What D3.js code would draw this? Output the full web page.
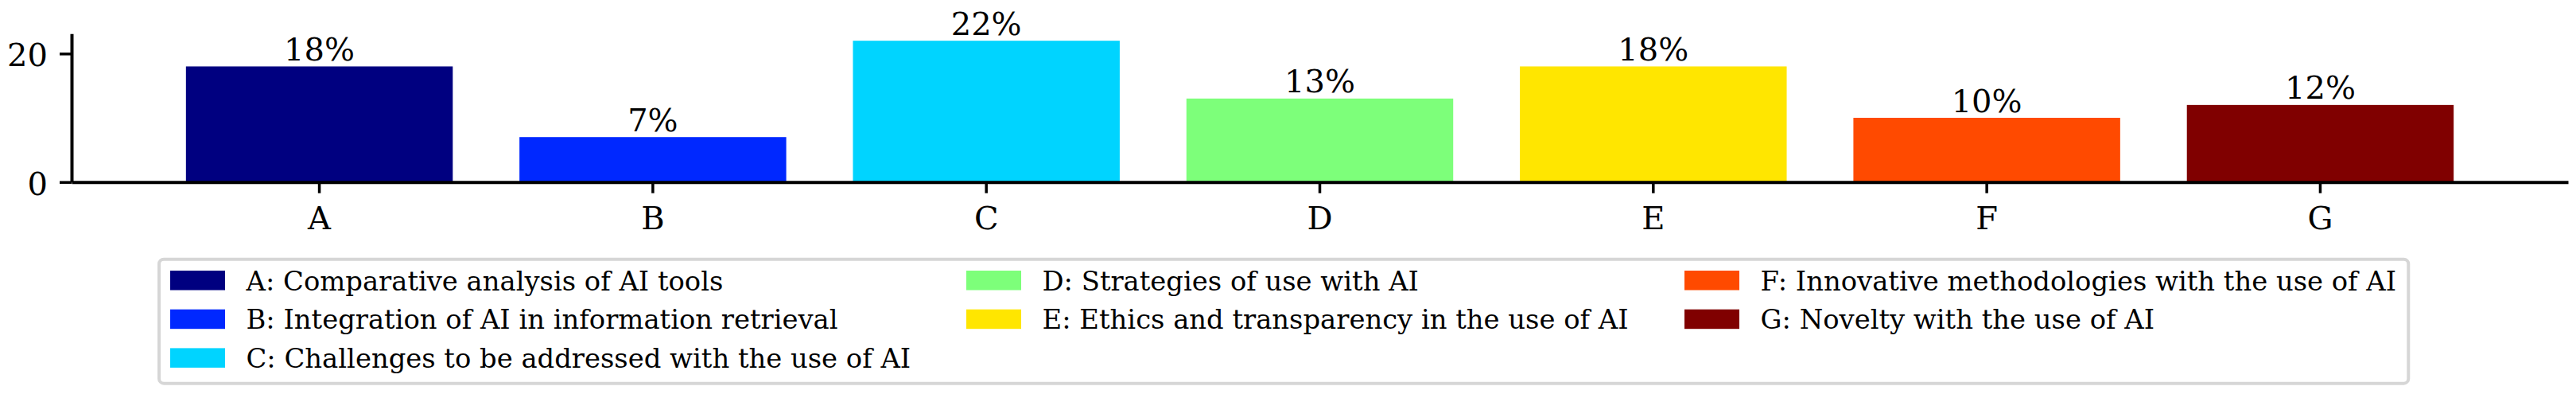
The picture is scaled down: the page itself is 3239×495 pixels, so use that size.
<!DOCTYPE html>
<html>
<head>
<meta charset="utf-8">
<script src="https://cdn.jsdelivr.net/npm/d3@7"></script>
<style>
  body { margin: 0; background: #fff; }
  svg text { font-family: "DejaVu Serif", serif; fill: #000; }
</style>
</head>
<body>
<div id="chart"></div>
<script>
// data
const categories = ["A", "B", "C", "D", "E", "F", "G"];
const values = [18, 7, 22, 13, 18, 10, 12];
const colors = ["#000080", "#0028ff", "#00d4ff", "#7dff7a", "#ffe600", "#ff4a00", "#800000"];
const legendLabels = [
    "A: Comparative analysis of AI tools",
    "B: Integration of AI in information retrieval",
    "C: Challenges to be addressed with the use of AI",
    "D: Strategies of use with AI",
    "E: Ethics and transparency in the use of AI",
    "F: Innovative methodologies with the use of AI",
    "G: Novelty with the use of AI"
];
const yTicks = [0, 20];

const W = 3239, H = 495;
const plot = {left: 90, right: 3229, top: 42.3, bottom: 228.7};

const svg = d3.select("#chart")
    .append("svg")
    .attr("width", W)
    .attr("height", H);

// scales
const x = d3.scaleBand()
    .domain(categories)
    .range([plot.left, plot.right])
    .paddingInner(0.2)
    .paddingOuter(0.343);

const y = d3.scaleLinear()
    .domain([0, 23.1])
    .range([plot.bottom, plot.top]);

// bars
svg.append("g")
    .selectAll("rect")
    .data(categories)
    .enter()
    .append("rect")
    .attr("x", d => x(d))
    .attr("width", x.bandwidth())
    .attr("y", (d, i) => y(values[i]))
    .attr("height", (d, i) => y(0) - y(values[i]))
    .attr("fill", (d, i) => colors[i]);

// value labels
svg.append("g")
    .selectAll("text")
    .data(categories)
    .enter()
    .append("text")
    .attr("x", d => x(d) + x.bandwidth() / 2)
    .attr("y", (d, i) => y(values[i]) - 7.5)
    .attr("text-anchor", "middle")
    .style("font-size", "40px")
    .text((d, i) => values[i] + "%");

// x axis
const xAxis = svg.append("g")
    .attr("transform", `translate(0,${plot.bottom})`)
    .call(d3.axisBottom(x).tickSizeInner(14).tickSizeOuter(0));
xAxis.select(".domain").attr("stroke-width", 4);
xAxis.selectAll(".tick line").attr("stroke-width", 3.5);
xAxis.selectAll(".tick text")
    .attr("y", 59.6)
    .attr("dy", 0)
    .style("font-size", "40px")
    .style("font-family", "DejaVu Serif, serif");

// y axis
const yAxis = svg.append("g")
    .attr("transform", `translate(${plot.left},0)`)
    .call(d3.axisLeft(y).tickValues(yTicks).tickSizeInner(15).tickSizeOuter(0));
yAxis.select(".domain").attr("stroke-width", 4);
yAxis.selectAll(".tick line").attr("stroke-width", 3.5);
yAxis.selectAll(".tick text")
    .attr("x", -30)
    .attr("dy", 15.5)
    .style("font-size", "40px")
    .style("font-family", "DejaVu Serif, serif");

// legend
const legend = svg.append("g").attr("class", "legend");
legend.append("rect")
    .attr("x", 200)
    .attr("y", 325.7)
    .attr("width", 3028.3 - 200)
    .attr("height", 481.7 - 325.7)
    .attr("rx", 6)
    .attr("fill", "#fff")
    .attr("stroke", "#d6d6d6")
    .attr("stroke-width", 4);

const colX = [214, 1215, 2118];
const rowsPerCol = [3, 2, 2];
let idx = 0;
colX.forEach((cx, c) => {
    for (let r = 0; r < rowsPerCol[c]; r++) {
        const i = idx++;
        const by = 364.5 + r * 48.7;
        const g = legend.append("g");
        g.append("rect")
            .attr("x", cx)
            .attr("y", by - 24.5)
            .attr("width", 69)
            .attr("height", 24.5)
            .attr("fill", colors[i]);
        g.append("text")
            .attr("x", cx + 95.5)
            .attr("y", by)
            .style("font-size", "33.8px")
            .text(legendLabels[i]);
    }
});
</script>
</body>
</html>
